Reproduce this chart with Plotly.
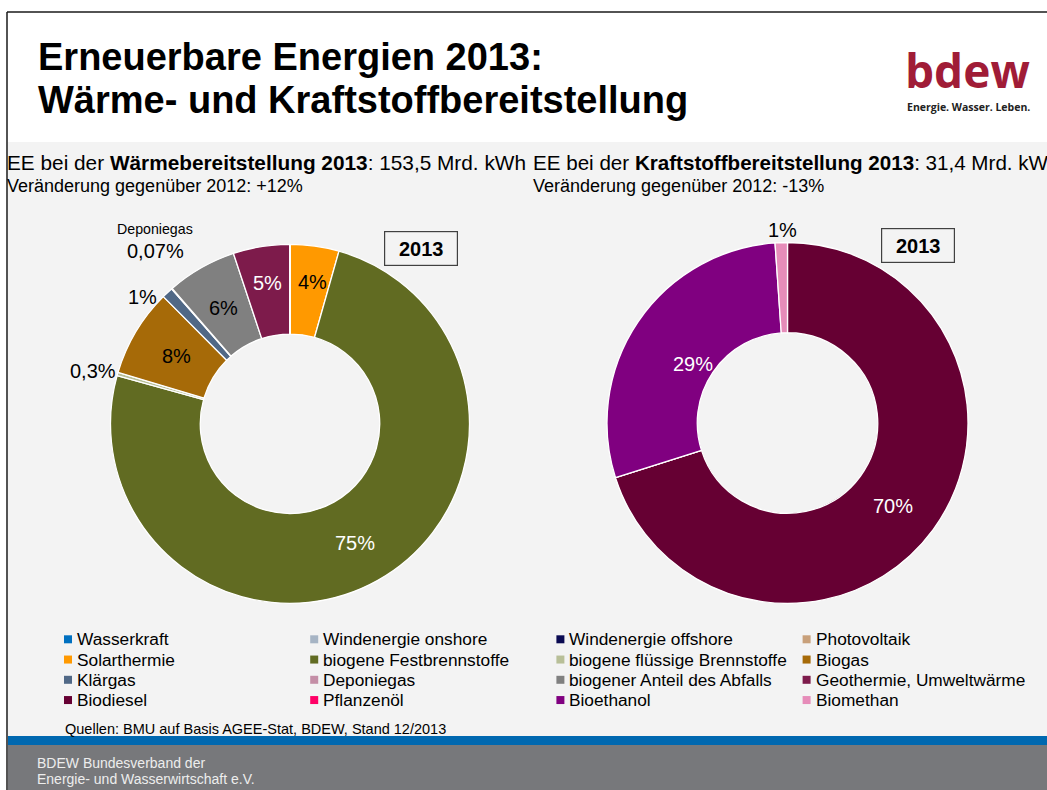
import plotly.graph_objects as go

W, H = 1047, 790

# ---------------- data ----------------
categories = [
    "Wasserkraft", "Windenergie onshore", "Windenergie offshore", "Photovoltaik",
    "Solarthermie", "biogene Festbrennstoffe", "biogene flüssige Brennstoffe", "Biogas",
    "Klärgas", "Deponiegas", "biogener Anteil des Abfalls", "Geothermie, Umweltwärme",
    "Biodiesel", "Pflanzenöl", "Bioethanol", "Biomethan",
]
colors = [
    "#0070C0", "#A6B4C4", "#0A0A52", "#C8A07A",
    "#FF9900", "#616B22", "#B8BF98", "#A66A08",
    "#506886", "#C48EA6", "#808080", "#7D1B4B",
    "#660033", "#FF0066", "#800080", "#E68CB9",
]
# shares in % (2013)
waerme_share = [0, 0, 0, 0, 4.4, 74.93, 0.3, 7.9, 1.0, 0.07, 6.3, 5.1, 0, 0, 0, 0]
kraftstoff_share = [0, 0, 0, 0, 0, 0, 0, 0, 0, 0, 0, 0, 70.1, 0, 28.8, 1.1]

title_lines = ["Erneuerbare Energien 2013:", "Wärme- und Kraftstoffbereitstellung"]
waerme_head = "EE bei der <b>Wärmebereitstellung 2013</b>: 153,5 Mrd. kWh"
waerme_sub = "Veränderung gegenüber 2012: +12%"
kraft_head = "EE bei der <b>Kraftstoffbereitstellung 2013</b>: 31,4 Mrd. kWh"
kraft_sub = "Veränderung gegenüber 2012: -13%"
source_text = "Quellen: BMU auf Basis AGEE-Stat, BDEW, Stand 12/2013"
footer_lines = ["BDEW Bundesverband der", "Energie- und Wasserwirtschaft e.V."]
year_label = "2013"

# ---------------- layout helpers ----------------
FONT = "Liberation Sans, Arial, sans-serif"


def px(x):
    return x / W


def py(y):
    return 1 - y / H


def fmt(v):
    if v >= 1:
        return f"{round(v)}%"
    return f"{v:g}".replace(".", ",") + "%"


# label anchor positions (pixels) and colours
waerme_label_pos = {
    "Solarthermie": (312, 282, "black"),
    "biogene Festbrennstoffe": (355, 543, "white"),
    "biogene flüssige Brennstoffe": (93, 371, "black"),
    "Biogas": (176, 356, "black"),
    "Klärgas": (142, 297, "black"),
    "Deponiegas": (155, 251, "black"),
    "biogener Anteil des Abfalls": (223, 308, "black"),
    "Geothermie, Umweltwärme": (267, 283, "white"),
}
kraft_label_pos = {
    "Biodiesel": (893, 506, "white"),
    "Bioethanol": (693, 364, "white"),
    "Biomethan": (782, 230, "black"),
}


def donut(values, cx, cy, r):
    return go.Pie(
        labels=categories, values=values, sort=False,
        direction="clockwise", rotation=0, hole=0.5,
        marker=dict(colors=colors, line=dict(color="white", width=1.3)),
        textinfo="none", hoverinfo="label+percent", showlegend=False,
        domain=dict(x=[px(cx - r), px(cx + r)], y=[py(cy + r), py(cy - r)]),
    )


fig = go.Figure()
fig.add_trace(donut(waerme_share, 290, 423.8, 179.5))
fig.add_trace(donut(kraftstoff_share, 787.5, 423, 180.5))

shapes = []
# grey content panel, blue rule, footer
shapes.append(dict(type="rect", xref="paper", yref="paper", x0=px(8), x1=1, y0=py(736), y1=py(142),
                   fillcolor="#F3F3F3", line=dict(width=0), layer="below"))
shapes.append(dict(type="rect", xref="paper", yref="paper", x0=px(8), x1=1, y0=py(745), y1=py(736),
                   fillcolor="#0068B0", line=dict(width=0), layer="below"))
shapes.append(dict(type="rect", xref="paper", yref="paper", x0=px(8), x1=1, y0=0, y1=py(745),
                   fillcolor="#77787B", line=dict(width=0), layer="below"))
# frame lines
shapes.append(dict(type="line", xref="paper", yref="paper", x0=px(7), x1=px(7), y0=0, y1=py(12),
                   line=dict(color="#1a1a1a", width=1.5), layer="above"))
shapes.append(dict(type="line", xref="paper", yref="paper", x0=px(7), x1=1, y0=py(12), y1=py(12),
                   line=dict(color="#1a1a1a", width=1.5), layer="above"))

annotations = []


def text(x, y, t, size, color="black", xanchor="left", bold=False, family=FONT, **kw):
    if bold:
        t = f"<b>{t}</b>"
    annotations.append(dict(xref="paper", yref="paper", x=px(x), y=py(y), text=t, showarrow=False,
                            xanchor=xanchor, yanchor="middle",
                            font=dict(family=family, size=size, color=color), **kw))


# title
text(36, 57, title_lines[0], 38, bold=True)
text(36, 100, title_lines[1], 38, bold=True)
# logo
text(967, 70, "bdew", 46, color="#A01C37", xanchor="center", bold=True, family="Open Sans, sans-serif")
text(968, 107, "Energie. Wasser. Leben.", 10.5, color="#222222", xanchor="center", bold=True,
     family="Open Sans, sans-serif")

# headers
text(5, 162, waerme_head, 20.8)
text(5, 186, waerme_sub, 18)
text(531, 162, kraft_head, 20.6)
text(531, 186, kraft_sub, 18)

# year boxes
for cx, cy in [(421, 248), (917.5, 245)]:
    annotations.append(dict(xref="paper", yref="paper", x=px(cx), y=py(cy), text=f"<b>{year_label}</b>",
                            showarrow=False, xanchor="center", yanchor="middle", width=70, height=31,
                            bgcolor="#F3F3F3", bordercolor="#404040", borderwidth=1.2,
                            font=dict(family=FONT, size=20, color="black")))

# slice labels from data
for vals, pos in [(waerme_share, waerme_label_pos), (kraftstoff_share, kraft_label_pos)]:
    for cat, v in zip(categories, vals):
        if v > 0 and cat in pos:
            x, y, c = pos[cat]
            text(x, y, fmt(v), 20, color=c, xanchor="center")
# name label for tiny Deponiegas slice
text(155, 229, "Deponiegas", 14.2, xanchor="center")

# manual legend (4 columns, row-major)
for i, (cat, col) in enumerate(zip(categories, colors)):
    c, r = i % 4, i // 4
    tx = 77 + c * 246.2
    ty = 639.3 + r * 20.25
    shapes.append(dict(type="rect", xref="paper", yref="paper", x0=px(tx - 13), x1=px(tx - 5),
                       y0=py(ty + 4), y1=py(ty - 4), fillcolor=col, line=dict(width=0), layer="above"))
    text(tx - 2, ty, cat, 17.3)

# source and footer
text(63, 729, source_text, 14.5)
text(35, 763, footer_lines[0], 14, color="#EDEDED")
text(35, 779, footer_lines[1], 14, color="#EDEDED")

fig.update_layout(
    width=W, height=H, margin=dict(l=0, r=0, t=0, b=0),
    paper_bgcolor="white", plot_bgcolor="white",
    shapes=shapes, annotations=annotations, showlegend=False,
    font=dict(family=FONT),
)

fig.write_html(
    "out.html",
    config={"displayModeBar": False},
    post_script="document.body.style.margin='0px';document.body.style.overflow='hidden';",
)
